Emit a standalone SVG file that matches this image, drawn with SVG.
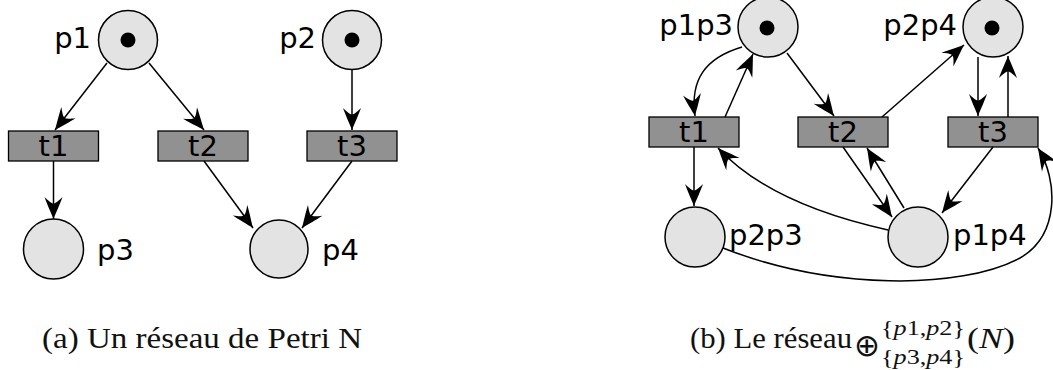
<svg xmlns="http://www.w3.org/2000/svg" width="1053" height="370" viewBox="0 0 1053 370">
  <style>
    .place { fill: #e3e3e3; stroke: #000; stroke-width: 1.5; }
    .token { fill: #000; }
    .trans { fill: #919191; stroke: #000; stroke-width: 1.3; }
    .lbl { font-family: "DejaVu Sans", sans-serif; font-size: 29px; fill: #000; }
    .tl { font-family: "DejaVu Sans", sans-serif; font-size: 29px; fill: #000; text-anchor: middle; }
    .arc { fill: none; stroke: #000; stroke-width: 1.5; marker-end: url(#head); }
    .cap { font-family: "Liberation Serif", "Times New Roman", serif; font-size: 29px; fill: #111; }
    .scr { font-family: "Liberation Serif", "Times New Roman", serif; font-size: 21px; fill: #111; }
    .op { font-family: "DejaVu Sans", sans-serif; font-size: 31px; fill: #111; }
  </style>
  <defs>
    <!-- barbed arrowhead, tip at the origin pointing along +x -->
    <marker id="head" markerUnits="userSpaceOnUse" orient="auto" refX="0" refY="0" markerWidth="30" markerHeight="30" overflow="visible">
      <path d="M0,0 C-6,-2.4 -15,-6.5 -22,-9 C-18,-4.8 -15.5,-2 -15.5,0 C-15.5,2 -18,4.8 -22,9 C-15,6.5 -6,2.4 0,0 Z" fill="#000"/>
    </marker>
  </defs>

  <!-- (a) net N -->
  <g id="p1"><circle class="place" cx="128" cy="40" r="29.5"/><circle class="token" cx="128" cy="40" r="7.5"/><text class="lbl" x="91" y="48" text-anchor="end">p1</text></g>
  <g id="p2"><circle class="place" cx="352" cy="40" r="29.5"/><circle class="token" cx="352" cy="40" r="7.5"/><text class="lbl" x="316" y="48" text-anchor="end">p2</text></g>
  <g id="t1"><rect class="trans" x="8.5" y="131" width="90" height="30"/><text class="tl" x="53.5" y="156">t1</text></g>
  <g id="t2"><rect class="trans" x="158" y="131" width="90" height="30"/><text class="tl" x="203" y="156">t2</text></g>
  <g id="t3"><rect class="trans" x="307" y="131" width="90" height="30"/><text class="tl" x="352" y="156">t3</text></g>
  <g id="p3"><circle class="place" cx="53.5" cy="249" r="30"/><text class="lbl" x="97" y="260">p3</text></g>
  <g id="p4"><circle class="place" cx="279" cy="249" r="29"/><text class="lbl" x="322" y="260">p4</text></g>

  <g id="arcs-a">
    <path class="arc" d="M107,63 L55,130"/>
    <path class="arc" d="M149,63 L204,130"/>
    <path class="arc" d="M352,70 L352,130"/>
    <path class="arc" d="M53.5,161 L53.5,219"/>
    <path class="arc" d="M204,161 L253,228"/>
    <path class="arc" d="M352,161 L302,228"/>
  </g>

  <!-- (b) merged net -->
  <g id="p1p3"><circle class="place" cx="768" cy="27" r="30"/><circle class="token" cx="767" cy="28" r="7.5"/><text class="lbl" x="733" y="35" text-anchor="end">p1p3</text></g>
  <g id="p2p4"><circle class="place" cx="993" cy="27" r="30"/><circle class="token" cx="992" cy="28" r="7.5"/><text class="lbl" x="957" y="35" text-anchor="end">p2p4</text></g>
  <g id="t1b"><rect class="trans" x="649" y="117" width="90" height="30"/><text class="tl" x="694" y="142">t1</text></g>
  <g id="t2b"><rect class="trans" x="798" y="117" width="90" height="30"/><text class="tl" x="843" y="142">t2</text></g>
  <g id="t3b"><rect class="trans" x="948" y="117" width="90" height="30"/><text class="tl" x="993" y="142">t3</text></g>
  <g id="p2p3"><circle class="place" cx="695" cy="237" r="30"/><text class="lbl" x="729" y="245">p2p3</text></g>
  <g id="p1p4"><circle class="place" cx="918" cy="237" r="30"/><text class="lbl" x="953" y="245">p1p4</text></g>

  <g id="arcs-b">
    <path class="arc" d="M742,47 C705,58 690,80 695,116"/>
    <path class="arc" d="M725,117 L753,54"/>
    <path class="arc" d="M787,53 L834,116"/>
    <path class="arc" d="M882,117 L964,45"/>
    <path class="arc" d="M978,57 L978,116"/>
    <path class="arc" d="M1008,117 L1008,56"/>
    <path class="arc" d="M694,147 L694,206"/>
    <path class="arc" d="M888,230 Q770,204 718,148"/>
    <path class="arc" d="M843,147 L892,217"/>
    <path class="arc" d="M904,208 L867,148"/>
    <path class="arc" d="M993,147 L942,213"/>
    <path class="arc" d="M723,248 C830,290 960,290 1020,258 C1060,235 1058,180 1038,148"/>
  </g>

  <!-- captions -->
  <text class="cap" x="690" y="348" textLength="162" lengthAdjust="spacingAndGlyphs">(b) Le réseau</text>
  <text class="cap" x="42" y="348" textLength="320" lengthAdjust="spacingAndGlyphs">(a) Un réseau de Petri N</text>
  <g id="caption-b-math">
    <text class="op" x="854" y="356">⊕</text>
    <text class="scr" x="881" y="335" textLength="84" lengthAdjust="spacingAndGlyphs">{<tspan font-style="italic">p</tspan>1,<tspan font-style="italic">p</tspan>2}</text>
    <text class="scr" x="881" y="364" textLength="84" lengthAdjust="spacingAndGlyphs">{<tspan font-style="italic">p</tspan>3,<tspan font-style="italic">p</tspan>4}</text>
    <text class="cap" x="967" y="348" textLength="48" lengthAdjust="spacingAndGlyphs">(<tspan font-style="italic">N</tspan>)</text>
  </g>
</svg>
